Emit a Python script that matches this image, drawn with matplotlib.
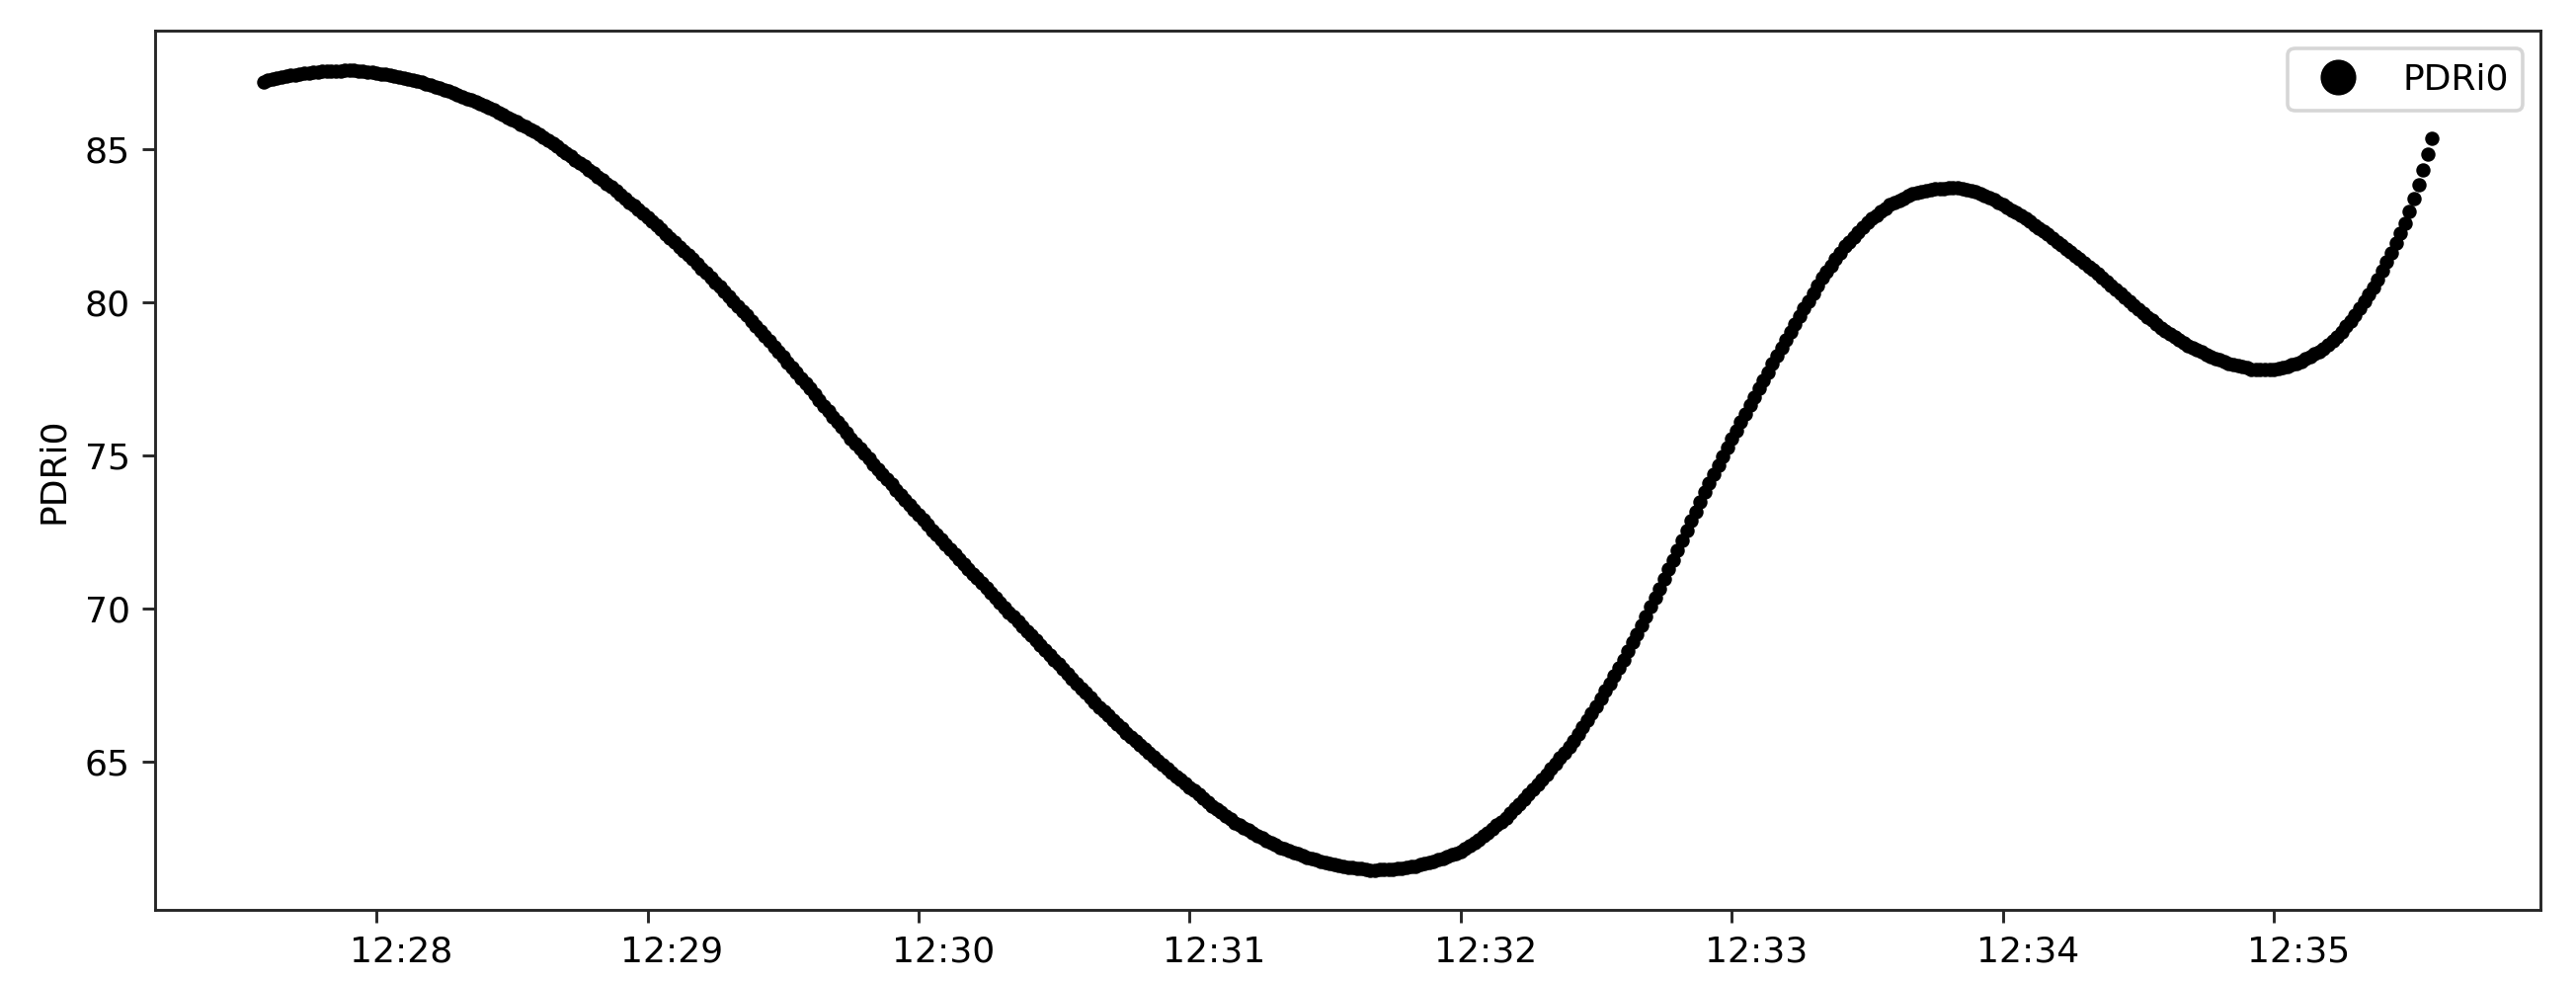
import matplotlib
matplotlib.use("Agg")
import matplotlib.pyplot as plt
import matplotlib.dates as mdates
from matplotlib.transforms import ScaledTranslation
import pandas as pd

# sampling: one reading per second starting at 12:27:35
START_TIME = "2020-01-01 12:27:35"
SAMPLE_PERIOD = "1s"
SERIES_NAME = "PDRi0"

PDRI0 = [
    87.22, 87.26, 87.29, 87.33, 87.36, 87.40, 87.42, 87.44, 87.47, 87.49,
    87.51, 87.52, 87.53, 87.55, 87.56, 87.57, 87.57, 87.57, 87.58, 87.58,
    87.58, 87.57, 87.55, 87.54, 87.52, 87.51, 87.48, 87.46, 87.43, 87.41,
    87.38, 87.34, 87.31, 87.27, 87.24, 87.20, 87.15, 87.10, 87.06, 87.01,
    86.96, 86.90, 86.84, 86.79, 86.73, 86.67, 86.61, 86.55, 86.48, 86.42,
    86.36, 86.29, 86.21, 86.14, 86.06, 85.99, 85.91, 85.83, 85.74, 85.66,
    85.58, 85.48, 85.39, 85.29, 85.20, 85.10, 84.99, 84.88, 84.78, 84.67,
    84.56, 84.45, 84.34, 84.23, 84.12, 84.01, 83.89, 83.77, 83.64, 83.52,
    83.40, 83.28, 83.16, 83.03, 82.91, 82.79, 82.65, 82.51, 82.38, 82.24,
    82.10, 81.96, 81.82, 81.69, 81.55, 81.41, 81.26, 81.11, 80.96, 80.81,
    80.66, 80.51, 80.35, 80.20, 80.04, 79.89, 79.73, 79.57, 79.40, 79.24,
    79.08, 78.91, 78.74, 78.56, 78.39, 78.22, 78.05, 77.88, 77.70, 77.53,
    77.36, 77.18, 77.00, 76.81, 76.63, 76.45, 76.27, 76.09, 75.92, 75.74,
    75.56, 75.39, 75.22, 75.06, 74.89, 74.72, 74.55, 74.38, 74.22, 74.05,
    73.88, 73.71, 73.55, 73.38, 73.22, 73.05, 72.89, 72.73, 72.56, 72.40,
    72.24, 72.08, 71.92, 71.77, 71.61, 71.45, 71.29, 71.13, 70.98, 70.82,
    70.66, 70.50, 70.34, 70.19, 70.03, 69.87, 69.72, 69.57, 69.41, 69.26,
    69.11, 68.95, 68.80, 68.64, 68.49, 68.33, 68.17, 68.02, 67.86, 67.71,
    67.55, 67.39, 67.24, 67.08, 66.93, 66.77, 66.63, 66.49, 66.35, 66.21,
    66.07, 65.94, 65.80, 65.67, 65.53, 65.40, 65.27, 65.14, 65.01, 64.88,
    64.75, 64.63, 64.51, 64.40, 64.28, 64.16, 64.04, 63.92, 63.79, 63.67,
    63.55, 63.44, 63.33, 63.22, 63.11, 63.00, 62.92, 62.83, 62.75, 62.66,
    62.58, 62.50, 62.42, 62.35, 62.27, 62.19, 62.14, 62.08, 62.03, 61.97,
    61.92, 61.87, 61.82, 61.78, 61.73, 61.68, 61.65, 61.62, 61.60, 61.57,
    61.54, 61.52, 61.50, 61.49, 61.47, 61.45, 61.45, 61.46, 61.46, 61.47,
    61.47, 61.49, 61.51, 61.54, 61.56, 61.58, 61.62, 61.66, 61.70, 61.74,
    61.78, 61.83, 61.89, 61.94, 62.00, 62.05, 62.15, 62.25, 62.35, 62.45,
    62.55, 62.67, 62.79, 62.91, 63.03, 63.15, 63.30, 63.46, 63.61, 63.77,
    63.92, 64.09, 64.25, 64.42, 64.58, 64.75, 64.93, 65.11, 65.29, 65.47,
    65.65, 65.88, 66.11, 66.34, 66.57, 66.80, 67.05, 67.30, 67.55, 67.80,
    68.05, 68.33, 68.61, 68.89, 69.17, 69.45, 69.75, 70.05, 70.35, 70.65,
    70.95, 71.27, 71.59, 71.91, 72.23, 72.55, 72.86, 73.17, 73.48, 73.79,
    74.10, 74.39, 74.68, 74.97, 75.26, 75.55, 75.82, 76.10, 76.37, 76.65,
    76.92, 77.19, 77.46, 77.72, 77.99, 78.25, 78.51, 78.77, 79.03, 79.29,
    79.55, 79.80, 80.05, 80.30, 80.55, 80.80, 81.01, 81.21, 81.42, 81.62,
    81.83, 81.99, 82.15, 82.30, 82.46, 82.62, 82.74, 82.85, 82.97, 83.08,
    83.20, 83.27, 83.34, 83.41, 83.48, 83.55, 83.58, 83.62, 83.65, 83.69,
    83.72, 83.73, 83.73, 83.74, 83.74, 83.75, 83.71, 83.68, 83.64, 83.61,
    83.57, 83.50, 83.42, 83.35, 83.27, 83.20, 83.11, 83.02, 82.93, 82.84,
    82.75, 82.64, 82.54, 82.43, 82.33, 82.22, 82.11, 81.99, 81.88, 81.76,
    81.65, 81.53, 81.41, 81.30, 81.18, 81.06, 80.93, 80.80, 80.68, 80.55,
    80.42, 80.29, 80.16, 80.03, 79.90, 79.77, 79.65, 79.53, 79.41, 79.29,
    79.17, 79.07, 78.97, 78.88, 78.78, 78.68, 78.60, 78.53, 78.45, 78.38,
    78.30, 78.24, 78.18, 78.12, 78.06, 78.00, 77.96, 77.93, 77.89, 77.86,
    77.82, 77.81, 77.81, 77.80, 77.80, 77.80, 77.84, 77.88, 77.92, 77.96,
    78.00, 78.08, 78.16, 78.24, 78.32, 78.40, 78.50, 78.61, 78.74, 78.89,
    79.05, 79.22, 79.40, 79.60, 79.81, 80.03, 80.26, 80.50, 80.76, 81.03,
    81.32, 81.62, 81.93, 82.25, 82.60, 82.98, 83.40, 83.86, 84.34, 84.84,
    85.35,
]

DPI = 260
times = pd.date_range(START_TIME, periods=len(PDRI0), freq=SAMPLE_PERIOD)

fig = plt.figure(figsize=(2608 / DPI, 993 / DPI), dpi=DPI)
ax = fig.add_axes([0.0602, 0.0725, 0.926, 0.8963])

ax.plot(times, PDRI0, linestyle="none", marker=".", markersize=6,
        color="black", label=SERIES_NAME)

ax.xaxis.set_major_locator(mdates.MinuteLocator())
ax.xaxis.set_major_formatter(mdates.DateFormatter("%H:%M"))
ax.set_ylabel(SERIES_NAME)

for sp in ax.spines.values():
    sp.set_color("#262626")
ax.tick_params(colors="#262626", labelcolor="black")

ax.legend(loc="upper right", markerscale=3)

# tick labels in the source sit a little to the right of their ticks
fig.canvas.draw()
shift = ScaledTranslation(25 / DPI, 0, fig.dpi_scale_trans)
for lab in ax.get_xticklabels():
    lab.set_transform(lab.get_transform() + shift)

fig.savefig("out.png", dpi=DPI)
